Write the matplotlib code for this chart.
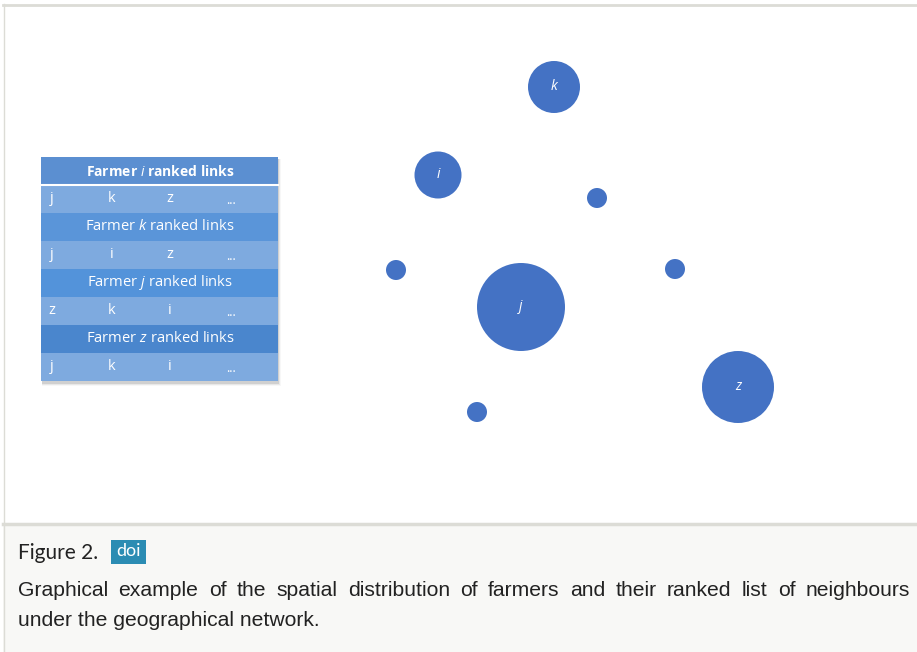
import matplotlib
matplotlib.use("Agg")
import matplotlib.pyplot as plt
from matplotlib.patches import Circle, Rectangle

plt.rcParams["mathtext.fontset"] = "custom"
plt.rcParams["mathtext.it"] = "Open Sans:italic"
plt.rcParams["mathtext.rm"] = "Open Sans"

# farmers (pixel positions in the drawing) and their sizes
farmer_names = ["k", "i", "", "", "j", "", "z", ""]
farmer_x = [554, 438, 597, 396, 521, 675, 738, 477]
farmer_y = [87, 175, 198, 270, 307, 269, 387, 412]
farmer_r = [26, 23.5, 10, 10, 44, 10, 36, 10]

# ranked links table
table_farmers = ["i", "k", "j", "z"]
table_links = [["j", "k", "z", "..."],
               ["j", "i", "z", "..."],
               ["z", "k", "i", "..."],
               ["j", "k", "i", "..."]]
header_colors = ["#5b8fd1", "#5a95d9", "#5393da", "#4a86cd"]
link_color = "#7eaadf"

caption_title = "Figure 2."
caption_line1 = "Graphical example of the spatial distribution of farmers and their ranked list of neighbours"
caption_line2 = "under the geographical network."

fig = plt.figure(figsize=(9.17, 6.52), dpi=100)
ax = fig.add_axes([0, 0, 1, 1])
ax.set_xlim(0, 917)
ax.set_ylim(652, 0)
ax.axis("off")

# panel frames
ax.add_patch(Rectangle((3, 4), 914, 519, facecolor="white", edgecolor="none"))
ax.plot([3, 917], [4.5, 4.5], color="#dcdcd6", lw=2)
ax.plot([3.5, 3.5], [4, 523], color="#dcdcd6", lw=1)
ax.add_patch(Rectangle((3, 523), 914, 129, facecolor="#f8f8f6", edgecolor="none"))
ax.plot([3, 917], [523.5, 523.5], color="#dcdcd6", lw=2.5)
ax.plot([3.5, 3.5], [523, 652], color="#dcdcd6", lw=1)

# circles
for name, x, y, r in zip(farmer_names, farmer_x, farmer_y, farmer_r):
    ax.add_patch(Circle((x, y), r, facecolor="#4472c4", edgecolor="none"))
    if name:
        ax.text(x, y, name, color="white", fontsize=10, style="italic",
                ha="center", va="center", family="Open Sans")

# table
tx0, tx1 = 41, 278
ty0 = 157
rh = 28
# soft shadow (bottom / right)
for k, a in enumerate([0.10, 0.06, 0.03]):
    ax.add_patch(Rectangle((tx0 + 1, ty0 + 2), tx1 - tx0 + k, 8 * rh + k + 1,
                           facecolor="black", edgecolor="none", alpha=a))
col_x = [52, 112, 170, 231]
for n, f in enumerate(table_farmers):
    y = ty0 + 2 * n * rh
    ax.add_patch(Rectangle((tx0, y), tx1 - tx0, rh, facecolor=header_colors[n], edgecolor="none"))
    ax.add_patch(Rectangle((tx0, y + rh), tx1 - tx0, rh, facecolor=link_color, edgecolor="none"))
    w = "bold" if n == 0 else "normal"
    fs = 10 if n == 0 else 10.6
    ax.text(160, y + rh / 2, "Farmer $\\it{%s}$ ranked links" % f, color="white",
            fontsize=fs, ha="center", va="center", fontweight=w, family="Open Sans")
    for cx, lab in zip(col_x, table_links[n]):
        ax.text(cx, y + rh * 1.5 + (1 if lab == "..." else 0), lab, color="white",
                fontsize=10.5 if lab != "..." else 9,
                ha="center", va="center", family="Open Sans")
ax.plot([tx0, tx1], [ty0 + rh, ty0 + rh], color="white", lw=1.5)

# caption
ax.text(18, 553, caption_title, fontsize=15, va="center", ha="left",
        family="Lato", color="#222222")
ax.add_patch(Rectangle((111, 540), 35, 24, facecolor="#2b8cb3", edgecolor="none"))
ax.text(128.5, 551.5, "doi", fontsize=13, va="center", ha="center",
        family="Lato", color="white")

# justified first line
fig.canvas.draw()
r = fig.canvas.get_renderer()
words = caption_line1.split()
tmp = [ax.text(0, 0, w_, fontsize=15.2, family="Liberation Sans") for w_ in words]
widths = [t.get_window_extent(renderer=r).width for t in tmp]
for t in tmp:
    t.remove()
gap = (910 - 18 - sum(widths)) / (len(words) - 1)
xpos = 18
for w_, wd in zip(words, widths):
    ax.text(xpos, 591, w_, fontsize=15.2, va="center", ha="left",
            family="Liberation Sans", color="#222222")
    xpos += wd + gap
ax.text(18, 621, caption_line2, fontsize=15.2, va="center", ha="left",
        family="Liberation Sans", color="#222222")

fig.savefig("out.png", dpi=100)
